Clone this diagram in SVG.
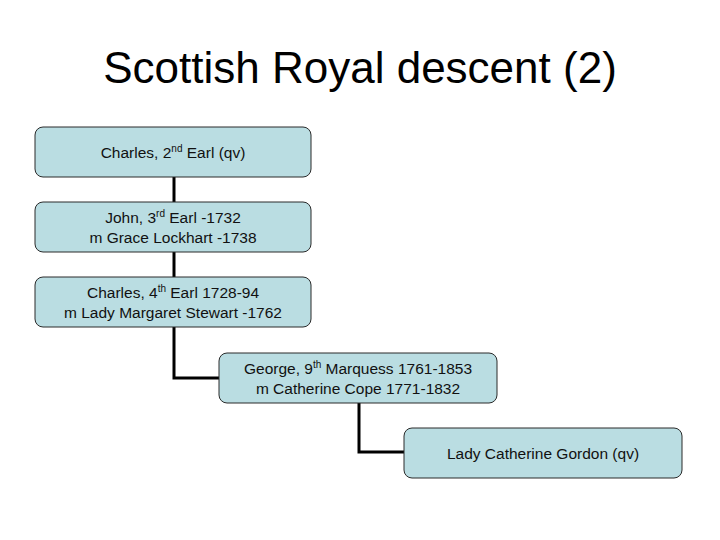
<svg xmlns="http://www.w3.org/2000/svg" width="720" height="540" viewBox="0 0 720 540">
<style>
.box{fill:#BADDE2;stroke:#2a2a2a;stroke-width:1}
.t{font-family:"Liberation Sans",Arial,sans-serif;font-size:15.5px;fill:#111;text-anchor:middle}
.sup{font-size:10px}
.title{font-family:"Liberation Sans",Arial,sans-serif;font-size:44px;fill:#000;text-anchor:middle}
.c{fill:none;stroke:#000;stroke-width:3}
</style>
<rect width="720" height="540" fill="#fff"/>
<text class="title" x="360" y="83">Scottish Royal descent (2)</text>
<g id="connectors">
<path class="c" d="M174 177V202"/>
<path class="c" d="M174 252V277"/>
<path class="c" d="M174 327V378H219"/>
<path class="c" d="M359 403V452H404"/>
</g>
<g id="n1">
<rect class="box" x="35" y="127" width="276" height="50" rx="8"/>
<text class="t" x="173" y="158">Charles, 2<tspan class="sup" dy="-6">nd</tspan><tspan dy="6"> Earl (qv)</tspan></text>
</g>
<g id="n2">
<rect class="box" x="35" y="202" width="276" height="50" rx="8"/>
<text class="t" x="173" y="223">John, 3<tspan class="sup" dy="-6">rd</tspan><tspan dy="6"> Earl -1732</tspan></text>
<text class="t" x="173" y="243">m Grace Lockhart -1738</text>
</g>
<g id="n3">
<rect class="box" x="35" y="277" width="276" height="50" rx="8"/>
<text class="t" x="173" y="298">Charles, 4<tspan class="sup" dy="-6">th</tspan><tspan dy="6"> Earl 1728-94</tspan></text>
<text class="t" x="173" y="318">m Lady Margaret Stewart -1762</text>
</g>
<g id="n4">
<rect class="box" x="219" y="353" width="278" height="50" rx="8"/>
<text class="t" x="358" y="374">George, 9<tspan class="sup" dy="-6">th</tspan><tspan dy="6"> Marquess 1761-1853</tspan></text>
<text class="t" x="358" y="394">m Catherine Cope 1771-1832</text>
</g>
<g id="n5">
<rect class="box" x="404" y="428" width="278" height="50" rx="8"/>
<text class="t" x="543" y="459">Lady Catherine Gordon (qv)</text>
</g>
</svg>
